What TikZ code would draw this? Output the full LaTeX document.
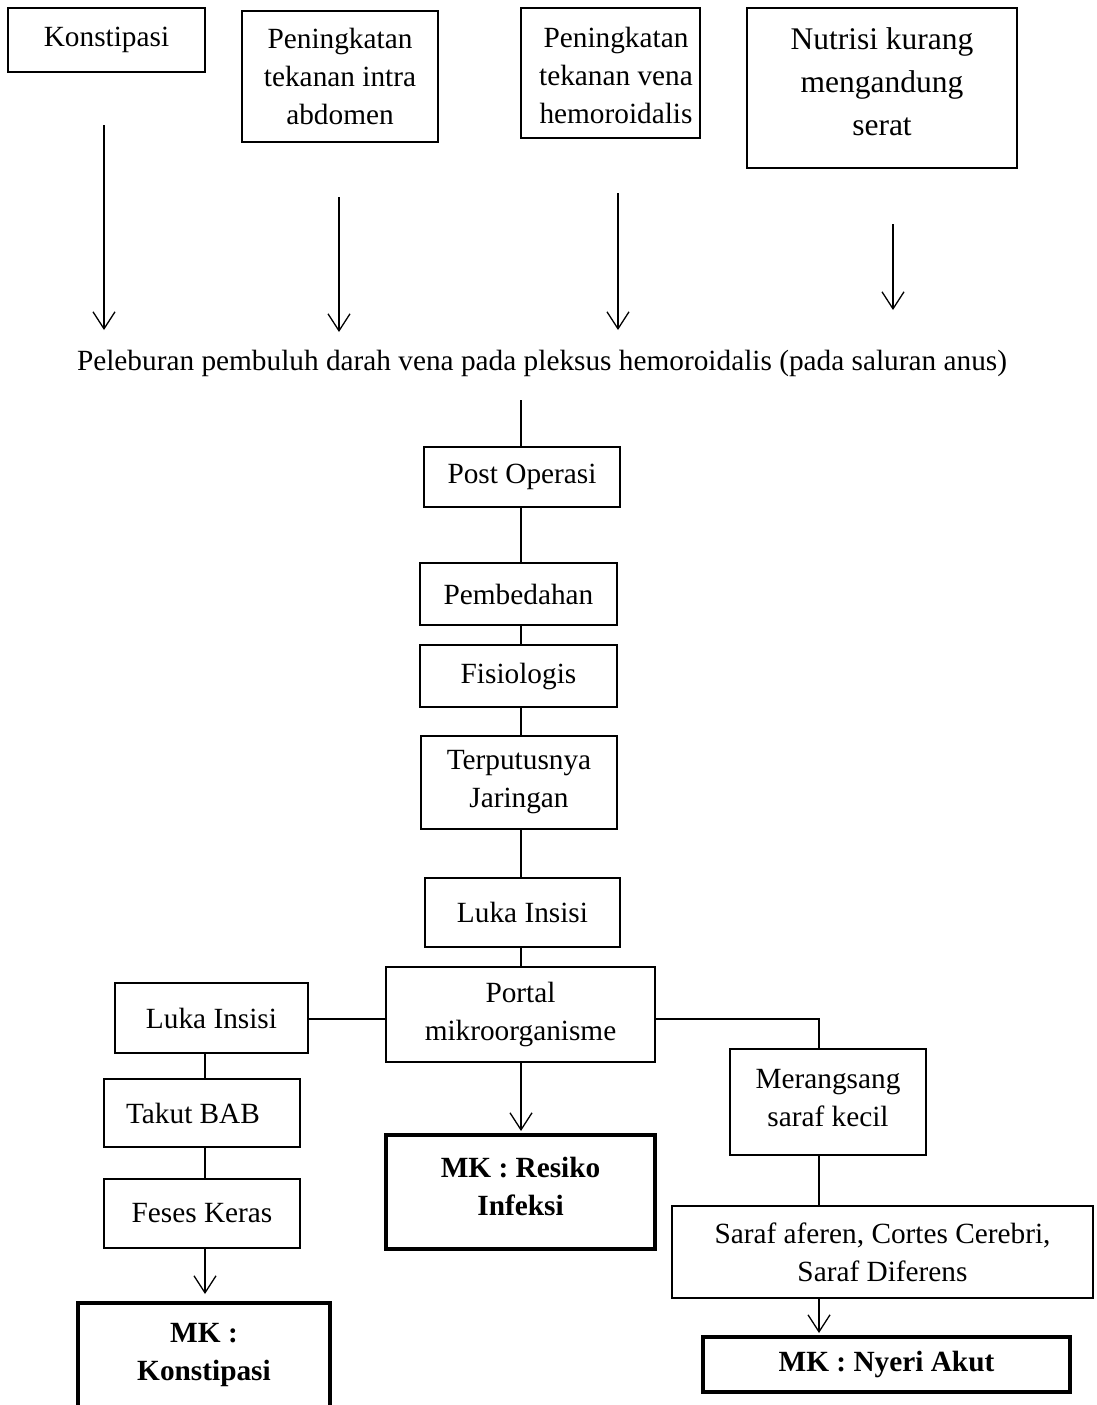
\documentclass[tikz,border=0pt]{standalone}
\usepackage{fontspec}
\setmainfont{Liberation Serif}
\usetikzlibrary{arrows.meta}
\begin{document}
\begin{tikzpicture}[x=1pt,y=-1pt,
  txt/.style={inner sep=0pt, align=center, font=\fontsize{29.3}{38}\selectfont},
  box/.style={txt, draw, line width=1.3pt},
  bigtxt/.style={txt, font=\fontsize{31.5}{43}\selectfont},
  mkbox/.style={box, line width=4pt, font=\fontsize{29.3}{38}\selectfont\bfseries},
  ln/.style={line width=1.3pt},
  arr/.style={line width=1.3pt, -{Straight Barb[length=17pt,width=22pt]}}]
\useasboundingbox (0,0) rectangle (1097,1405);
% top boxes
\node[box, minimum width=197pt, minimum height=64pt] (k1) at (106.5,40) {Konstipasi};
\node[box, minimum width=196pt, minimum height=131pt] (k2) at (340,76.5) {Peningkatan\\tekanan intra\\abdomen};
\node[box, minimum width=179pt, minimum height=130pt] (k3) at (610.5,73) {};
\node[txt] (k3t) at (616,75.5) {Peningkatan\\tekanan vena\\hemoroidalis};
\node[box, minimum width=270pt, minimum height=160pt] (k4) at (882,88) {};
\node[bigtxt] (k4t) at (882,82) {Nutrisi kurang\\mengandung\\serat};
% free arrows
\coordinate (a1s) at (104,125); \coordinate (a1e) at (104,330);
\coordinate (a2s) at (339,197); \coordinate (a2e) at (339,332);
\coordinate (a3s) at (618,193); \coordinate (a3e) at (618,330);
\coordinate (a4s) at (893,224); \coordinate (a4e) at (893,310);
\draw[arr] (a1s) -- (a1e);
\draw[arr] (a2s) -- (a2e);
\draw[arr] (a3s) -- (a3e);
\draw[arr] (a4s) -- (a4e);
\node[txt] (pel) at (542,363) {Peleburan pembuluh darah vena pada pleksus hemoroidalis (pada saluran anus)};
% central column
\coordinate (cx) at (521,400);
\node[box, minimum width=196pt, minimum height=60pt] (post) at (522,477) {Post Operasi};
\node[box, minimum width=197pt, minimum height=62pt] (pemb) at (518.5,594) {Pembedahan};
\node[box, minimum width=197pt, minimum height=62pt] (fis) at (518.5,676) {Fisiologis};
\node[box, minimum width=196pt, minimum height=93pt] (terp) at (519,782.5) {Terputusnya\\Jaringan};
\node[box, minimum width=195pt, minimum height=69pt] (luka) at (522.5,912.5) {Luka Insisi};
\node[box, minimum width=269pt, minimum height=95pt] (portal) at (520.5,1014.5) {Portal\\mikroorganisme};
\node[mkbox, minimum width=269pt, minimum height=114pt] (mkr) at (520.5,1192) {};
\node[txt, font=\fontsize{29.3}{38}\selectfont\bfseries] (mkrt) at (520.5,1186) {MK : Resiko\\Infeksi};
\draw[ln] (cx) -- (cx |- post.north);
\draw[ln] (cx |- post.south) -- (cx |- pemb.north);
\draw[ln] (cx |- pemb.south) -- (cx |- fis.north);
\draw[ln] (cx |- fis.south) -- (cx |- terp.north);
\draw[ln] (cx |- terp.south) -- (cx |- luka.north);
\draw[ln] (cx |- luka.south) -- (cx |- portal.north);
\draw[arr] (cx |- portal.south) -- ([yshift=2pt]cx |- mkr.north);
% left column
\coordinate (lx) at (205,1019);
\node[box, minimum width=193pt, minimum height=70pt] (lukaL) at (211.5,1018) {Luka Insisi};
\node[box, minimum width=196pt, minimum height=68pt] (takut) at (202,1113) {Takut BAB\hspace{18pt}};
\node[box, minimum width=196pt, minimum height=69pt] (feses) at (202,1213.5) {Feses Keras};
\node[mkbox, minimum width=252pt, minimum height=110pt] (mkk) at (204,1358) {};
\node[txt, font=\fontsize{29.3}{38}\selectfont\bfseries] (mkkt) at (204,1355) {MK :\\Konstipasi};
\draw[ln] (lukaL.east |- lx) -- (portal.west |- lx);
\draw[ln] (lx |- lukaL.south) -- (lx |- takut.north);
\draw[ln] (lx |- takut.south) -- (lx |- feses.north);
\draw[arr] (lx |- feses.south) -- ([yshift=7pt]lx |- mkk.north);
% right column
\coordinate (rx) at (819,1019);
\node[box, minimum width=196pt, minimum height=106pt] (meran) at (828,1102) {};
\node[txt] (merant) at (828,1098) {Merangsang\\saraf kecil};
\node[box, minimum width=421pt, minimum height=92pt] (saraf) at (882.5,1252) {Saraf aferen, Cortes Cerebri,\\Saraf Diferens};
\node[mkbox, minimum width=367pt, minimum height=55pt] (mkn) at (886.5,1364.5) {MK : Nyeri Akut};
\draw[ln] (portal.east |- rx) -- (rx) -- (rx |- meran.north);
\draw[ln] (rx |- meran.south) -- (rx |- saraf.north);
\draw[arr] (rx |- saraf.south) -- ([yshift=2pt]rx |- mkn.north);
\end{tikzpicture}
\end{document}
